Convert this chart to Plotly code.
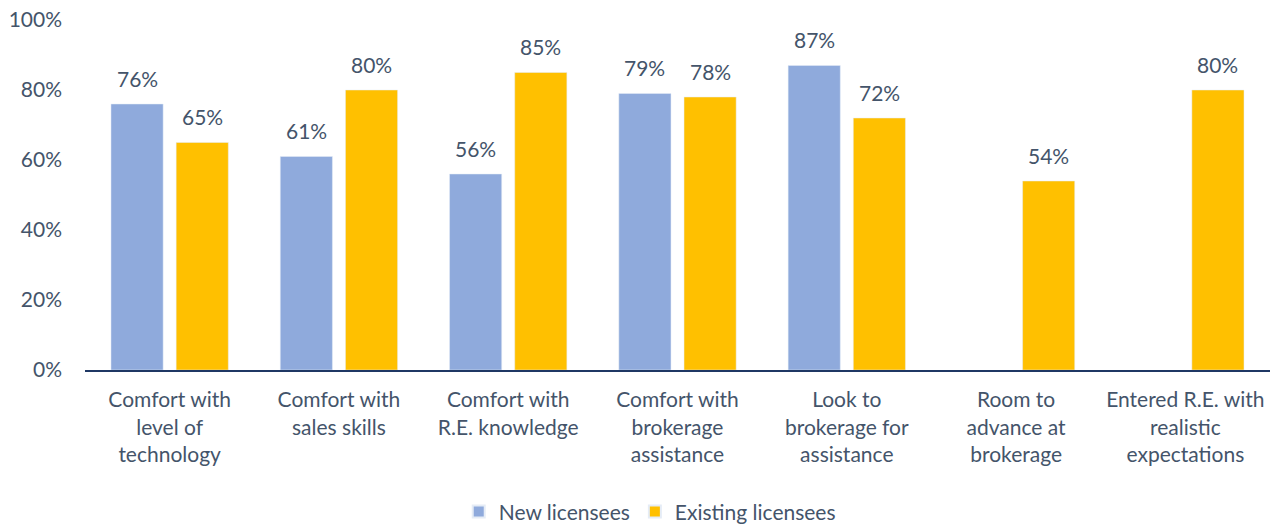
import plotly.graph_objects as go

categories = [
    "Comfort with<br>level of<br>technology",
    "Comfort with<br>sales skills",
    "Comfort with<br>R.E. knowledge",
    "Comfort with<br>brokerage<br>assistance",
    "Look to<br>brokerage for<br>assistance",
    "Room to<br>advance at<br>brokerage",
    "Entered R.E. with<br>realistic<br>expectations",
]
new_licensees = [76, 61, 56, 79, 87, None, None]
existing_licensees = [65, 80, 85, 78, 72, 54, 80]

TEXT = "#44546A"
FONT = "Lato, 'Open Sans', sans-serif"
SIZE = 21

fig = go.Figure()
fig.add_trace(go.Bar(name="New licensees", x=categories, y=new_licensees,
                     marker_color="#8FAADC"))
fig.add_trace(go.Bar(name="Existing licensees", x=categories, y=existing_licensees,
                     marker_color="#FFC000"))

# value labels above each bar, offset to the bar's slot within its group
plot_w = 1279 - 85 - 9
slot = plot_w / len(categories) * (1 - 0.23) / 2
for vals, shift in ((new_licensees, -slot / 2), (existing_licensees, slot / 2)):
    for cat, v in zip(categories, vals):
        if v is None:
            continue
        fig.add_annotation(x=cat, y=v, text=f"{v}%", showarrow=False,
                           xshift=shift, yshift=26, yanchor="middle",
                           font=dict(size=SIZE, color=TEXT, family=FONT))

fig.update_layout(
    width=1279, height=525,
    margin=dict(l=85, r=9, t=20, b=155, autoexpand=False),
    paper_bgcolor="white", plot_bgcolor="white",
    barmode="group", bargap=0.23, bargroupgap=0.2,
    font=dict(family=FONT, size=SIZE, color=TEXT),
    showlegend=True,
    legend=dict(orientation="h", xref="container", x=0.508, xanchor="center",
                yref="container", y=0.025, yanchor="middle",
                font=dict(size=SIZE, color=TEXT, family=FONT),
                itemsizing="constant", traceorder="normal", itemwidth=30),
    xaxis=dict(showline=True, linecolor="#1F3864", linewidth=2, ticks="",
               automargin=False,
               tickfont=dict(size=SIZE, color=TEXT, family=FONT), ticklabelstandoff=10),
    yaxis=dict(range=[0, 100], dtick=20, ticksuffix="%", showgrid=False,
               zeroline=False, showline=False, ticklabelstandoff=22, automargin=False,
               tickfont=dict(size=SIZE, color=TEXT, family=FONT)),
)

fig.write_html("out.html")
